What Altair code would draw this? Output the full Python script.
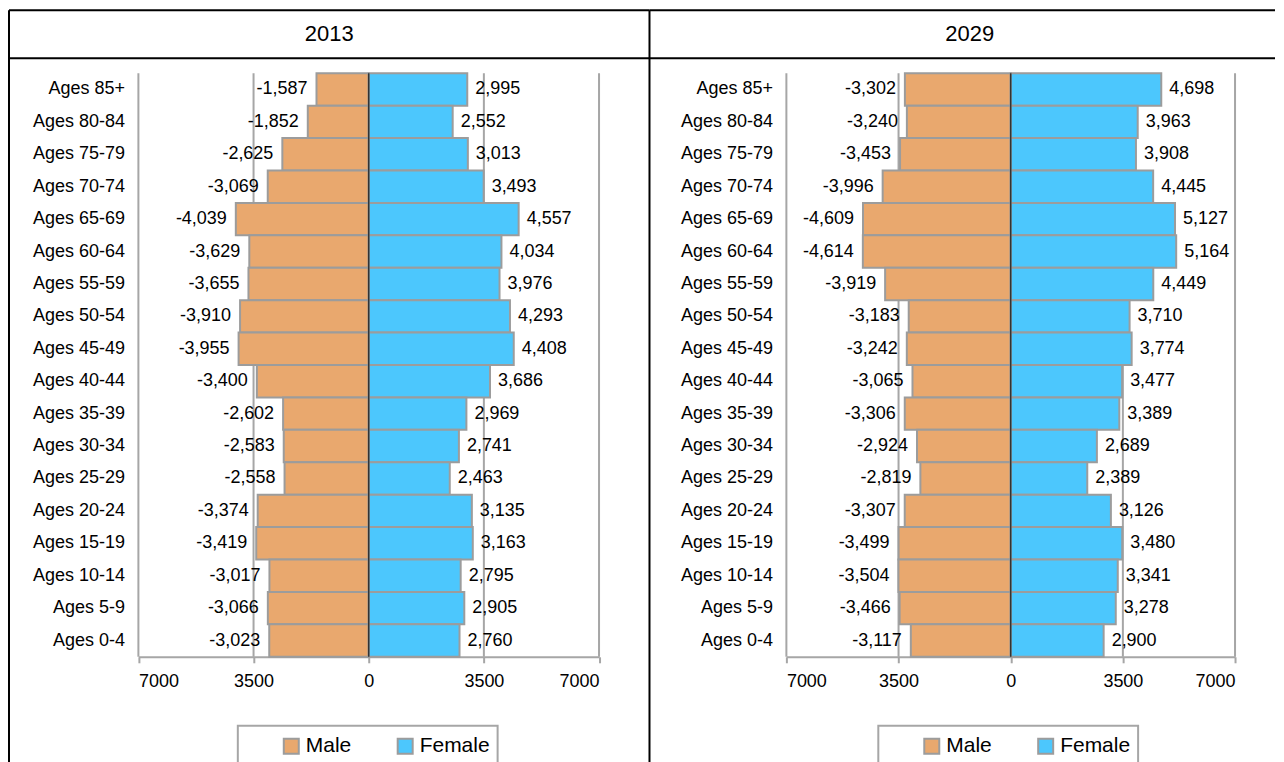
import altair as alt
import pandas as pd

ages = ["Ages 85+", "Ages 80-84", "Ages 75-79", "Ages 70-74", "Ages 65-69",
        "Ages 60-64", "Ages 55-59", "Ages 50-54", "Ages 45-49", "Ages 40-44",
        "Ages 35-39", "Ages 30-34", "Ages 25-29", "Ages 20-24", "Ages 15-19",
        "Ages 10-14", "Ages 5-9", "Ages 0-4"]

male_2013 = [1587, 1852, 2625, 3069, 4039, 3629, 3655, 3910, 3955, 3400,
             2602, 2583, 2558, 3374, 3419, 3017, 3066, 3023]
female_2013 = [2995, 2552, 3013, 3493, 4557, 4034, 3976, 4293, 4408, 3686,
               2969, 2741, 2463, 3135, 3163, 2795, 2905, 2760]
male_2029 = [3302, 3240, 3453, 3996, 4609, 4614, 3919, 3183, 3242, 3065,
             3306, 2924, 2819, 3307, 3499, 3504, 3466, 3117]
female_2029 = [4698, 3963, 3908, 4445, 5127, 5164, 4449, 3710, 3774, 3477,
               3389, 2689, 2389, 3126, 3480, 3341, 3278, 2900]

ticks = [-7000, -3500, 0, 3500, 7000]
sexes = ["Male", "Female"]
colors = ["#E9A86E", "#4CC7FD"]
years = ["2013", "2029"]

FONT = "Liberation Sans"
GREY = "#A6A6A6"
H = 760
YR = [63, 647]
CELL = 641  # nominal width of one bordered cell


def one():
    return pd.DataFrame({"d": [0]})


def panel(year, male, female, xr, width, left_border):
    df = pd.DataFrame({
        "age": ages * 2,
        "sex": ["Male"] * len(ages) + ["Female"] * len(ages),
        "value": [-v for v in male] + list(female),
    })
    xs = alt.Scale(domain=[ticks[0], ticks[-1]], range=xr, nice=False, zero=False)
    ys = alt.Scale(domain=ages, range=YR, paddingInner=0, paddingOuter=0)
    xaxis = alt.Axis(values=ticks, labelExpr="format(abs(datum.value), 'd')",
                     grid=False, domainColor=GREY, domainWidth=2, tickColor=GREY,
                     tickWidth=2, tickSize=6, labelFontSize=18, labelFont=FONT,
                     labelColor="black", labelPadding=10, offset=YR[1] - H, title=None)
    yaxis = alt.Axis(domain=False, ticks=False, labelFontSize=18, labelFont=FONT,
                     labelColor="black", labelPadding=14, offset=-xr[0], title=None)
    x_enc = alt.X("value:Q", scale=xs, axis=xaxis)
    y_enc = alt.Y("age:N", scale=ys, axis=yaxis, sort=ages)

    grid_df = pd.DataFrame({"value": [t for t in ticks if t != 0]})
    grid = alt.Chart(grid_df).mark_rule(color=GREY, strokeWidth=2).encode(
        x=x_enc, y=alt.value(YR[0]), y2=alt.value(YR[1]))

    bars = alt.Chart(df).mark_bar(stroke="#9C9C9C", strokeWidth=2).encode(
        x=x_enc, y=y_enc,
        color=alt.Color("sex:N", scale=alt.Scale(domain=sexes, range=colors),
                        legend=alt.Legend(orient="none", legendX=272, legendY=726,
                                          direction="horizontal", title=None,
                                          symbolType="square", symbolSize=225,
                                          symbolStrokeColor="#9C9C9C",
                                          symbolStrokeWidth=2, labelFontSize=21,
                                          labelFont=FONT, labelColor="black",
                                          labelOffset=4, columnPadding=42,
                                          padding=0)))

    zero = alt.Chart(pd.DataFrame({"value": [0]})).mark_rule(
        color="#333333", strokeWidth=1.5).encode(
        x=x_enc, y=alt.value(YR[0]), y2=alt.value(YR[1]))

    lab = alt.Chart(df).transform_calculate(
        label="(datum.value < 0 ? '-' : '') + format(abs(datum.value), ',')")
    lab_m = lab.transform_filter("datum.value < 0").mark_text(
        align="right", baseline="middle", dx=-9, fontSize=18, font=FONT,
        color="black").encode(x=x_enc, y=y_enc, text="label:N")
    lab_f = lab.transform_filter("datum.value > 0").mark_text(
        align="left", baseline="middle", dx=8, fontSize=18, font=FONT,
        color="black").encode(x=x_enc, y=y_enc, text="label:N")

    title = alt.Chart(pd.DataFrame({"year": [year]})).mark_text(
        fontSize=22, font=FONT, color="black", baseline="middle").encode(
        text="year:N", x=alt.value(CELL / 2), y=alt.value(24))

    line = dict(color="black", strokeWidth=2)
    top = alt.Chart(one()).mark_rule(**line).encode(
        x=alt.value(0), x2=alt.value(width), y=alt.value(0))
    divider = alt.Chart(one()).mark_rule(**line).encode(
        x=alt.value(0), x2=alt.value(width), y=alt.value(48))
    layers = [grid, bars, zero, lab_m, lab_f, title, top, divider]
    if left_border:
        layers.append(alt.Chart(one()).mark_rule(**line).encode(
            x=alt.value(0), y=alt.value(0), y2=alt.value(H)))
        layers.append(alt.Chart(one()).mark_rule(**line).encode(
            x=alt.value(width), y=alt.value(0), y2=alt.value(H)))
    legbox = alt.Chart(one()).mark_rect(
        fill="transparent", stroke=GREY, strokeWidth=2).encode(
        x=alt.value(229), x2=alt.value(489), y=alt.value(716), y2=alt.value(H))
    layers.append(legbox)

    return alt.layer(*layers).properties(width=width, height=H)


p1 = panel(years[0], male_2013, female_2013, [129.5, 590.5], CELL, True)
p2 = panel(years[1], male_2029, female_2029, [137, 586], 626, False)

chart = alt.hconcat(p1, p2, spacing=0, bounds="flush").resolve_scale(
    x="independent", y="independent", color="independent"
).configure_view(strokeWidth=0, stroke="transparent").properties(
    padding={"left": 0, "top": 1, "right": 0, "bottom": 0}
)

chart.save("out.html", embed_options={"renderer": "svg", "actions": False})
